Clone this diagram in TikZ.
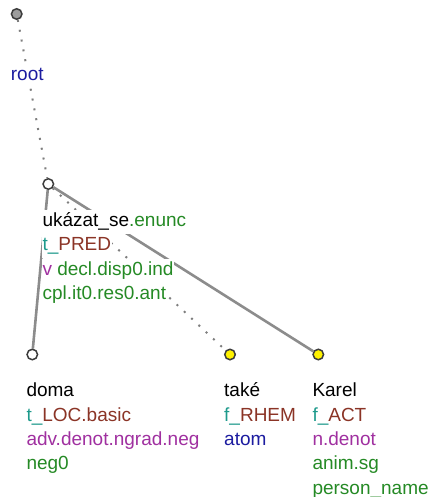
\documentclass[tikz,border=0pt]{standalone}
\usepackage{fontspec}
\setmainfont{Liberation Sans}
\usepackage{xcolor}
\usepackage{tikz}
\usetikzlibrary{positioning,calc,backgrounds}
\definecolor{tgreen}{HTML}{258A25}
\definecolor{tteal}{HTML}{1E9A8C}
\definecolor{tbrown}{HTML}{8B3426}
\definecolor{tpurple}{HTML}{A030A0}
\definecolor{tblue}{HTML}{1C1CA0}
\definecolor{tedge}{HTML}{8C8C8C}
\definecolor{tring}{HTML}{3C3C3C}

\begin{document}
\begin{tikzpicture}[x=1pt,y=-1pt,
  tnode/.style={circle,draw=tring,line width=1.5pt,inner sep=0pt,minimum size=10.5pt},
  lbl/.style={fill=white,inner xsep=1pt,inner ysep=2.5pt,text height=14pt,text depth=5pt,
    font=\fontsize{19}{24}\selectfont},
  solid edge/.style={draw=tedge,line width=2.6pt},
  dot edge/.style={draw=tedge!90!black,line width=2pt,dash pattern=on 2pt off 8pt}]
\useasboundingbox (0,0) rectangle (432,497);
% tree nodes
\node[tnode,fill=tedge!85](root) at (16.7,14){};
\node[tnode,fill=white](uk) at (48.3,184){};
\node[tnode,fill=white](doma) at (32.3,354.5){};
\node[tnode,fill=yellow](take) at (230,354.5){};
\node[tnode,fill=yellow](karel) at (318.3,354.5){};
% labels
\node[lbl,anchor=north west](root1) at ($(root)+(-7,49.5)$){\textcolor{tblue}{root}};
\node[lbl,anchor=north west](uk1) at ($(uk)+(-7,25.5)$){ukázat\_se\textcolor{tgreen}{.enunc}};
\node[lbl,below=0pt of uk1.south west,anchor=north west](uk2){\textcolor{tteal}{t\_}\textcolor{tbrown}{PRED}};
\node[lbl,below=0pt of uk2.south west,anchor=north west](uk3){\textcolor{tpurple}{v} \textcolor{tgreen}{decl.disp0.ind}};
\node[lbl,below=0pt of uk3.south west,anchor=north west](uk4){\textcolor{tgreen}{cpl.it0.res0.ant}};
\node[lbl,anchor=north west](doma1) at ($(doma)+(-7,25.5)$){doma};
\node[lbl,below=0pt of doma1.south west,anchor=north west](doma2){\textcolor{tteal}{t\_}\textcolor{tbrown}{LOC.basic}};
\node[lbl,below=0pt of doma2.south west,anchor=north west](doma3){\textcolor{tpurple}{adv.denot.ngrad.neg}};
\node[lbl,below=0pt of doma3.south west,anchor=north west](doma4){\textcolor{tgreen}{neg0}};
\node[lbl,anchor=north west](take1) at ($(take)+(-7,25.5)$){také};
\node[lbl,below=0pt of take1.south west,anchor=north west](take2){\textcolor{tteal}{f\_}\textcolor{tbrown}{RHEM}};
\node[lbl,below=0pt of take2.south west,anchor=north west](take3){\textcolor{tblue}{atom}};
\node[lbl,anchor=north west](karel1) at ($(karel)+(-7,25.5)$){Karel};
\node[lbl,below=0pt of karel1.south west,anchor=north west](karel2){\textcolor{tteal}{f\_}\textcolor{tbrown}{ACT}};
\node[lbl,below=0pt of karel2.south west,anchor=north west](karel3){\textcolor{tpurple}{n.denot}};
\node[lbl,below=0pt of karel3.south west,anchor=north west](karel4){\textcolor{tgreen}{anim.sg}};
\node[lbl,below=0pt of karel4.south west,anchor=north west](karel5){\textcolor{tgreen}{person\_name}};
% edges behind everything
\begin{scope}[on background layer]
\draw[dot edge](root)--(uk);
\draw[solid edge](uk)--(doma);
\draw[dot edge](uk)--(take);
\draw[solid edge](uk)--(karel);
\end{scope}
\end{tikzpicture}
\end{document}
